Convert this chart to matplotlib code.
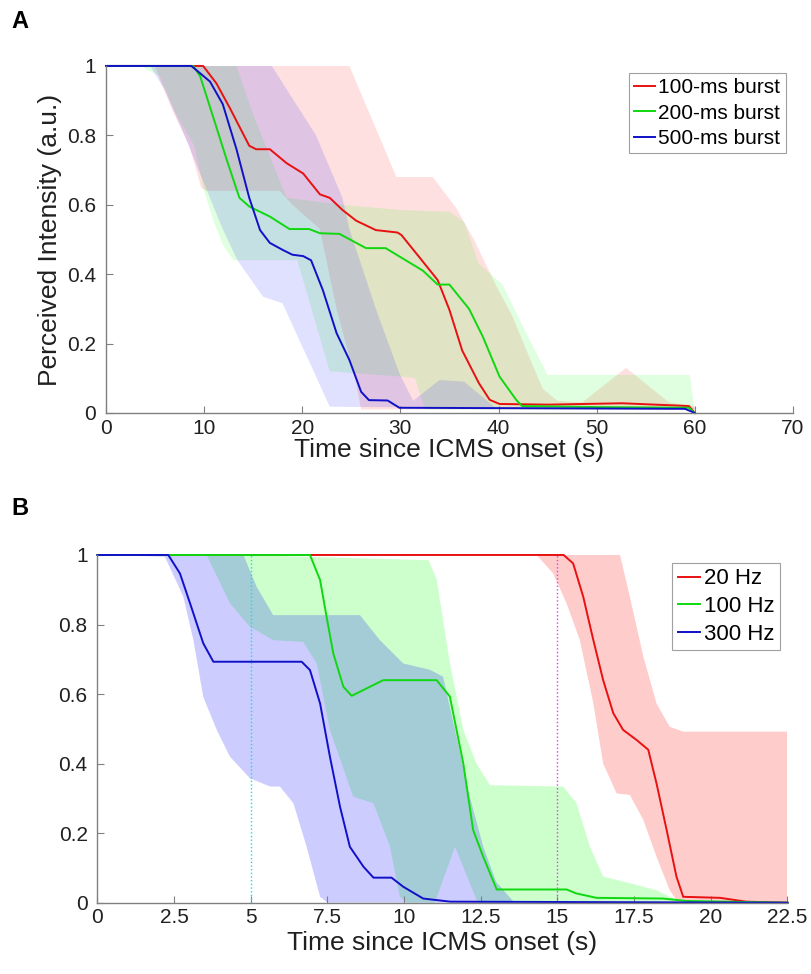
import matplotlib
matplotlib.use("Agg")
import matplotlib.pyplot as plt

plt.rcParams["font.family"] = ["Liberation Sans", "DejaVu Sans"]

# ---- Panel A: burst duration (time in s, intensity in a.u.) ----
burst_labels = ["100-ms burst", "200-ms burst", "500-ms burst"]

b100_t = [0, 9.9, 11.25, 12.6, 14.6, 15.3, 16.7, 18.4, 20.1, 21.8, 22.8, 24.1, 25.5,
          27.5, 29.7, 30.1, 31.9, 33.8, 35.0, 36.3, 38.0, 39.1, 40.1, 45.0, 52.6, 59.4, 60.0]
b100_y = [1, 1, 0.95, 0.88, 0.77, 0.76, 0.76, 0.72, 0.69, 0.63, 0.62, 0.585, 0.554,
          0.527, 0.52, 0.513, 0.45, 0.383, 0.297, 0.18, 0.086, 0.038, 0.026, 0.024, 0.028, 0.02, 0.0]
b200_t = [0, 8.9, 9.6, 10.9, 12.3, 13.6, 14.6, 16.7, 18.7, 20.7, 21.8, 23.8, 26.5, 28.5,
          32.3, 33.8, 35.0, 37.0, 38.4, 40.1, 41.8, 42.4, 50.0, 59.4, 60.0]
b200_y = [1, 1, 0.97, 0.855, 0.73, 0.62, 0.595, 0.566, 0.53, 0.53, 0.518, 0.516, 0.475, 0.475,
          0.41, 0.37, 0.37, 0.30, 0.22, 0.105, 0.038, 0.02, 0.017, 0.015, 0.0]
b500_t = [0, 8.7, 10.6, 11.9, 13.3, 14.6, 15.7, 16.7, 18.0, 19.0, 20.1, 20.9, 22.1, 23.5,
          24.8, 26.0, 26.8, 28.7, 29.9, 59.0, 60.0]
b500_y = [1, 1, 0.955, 0.89, 0.76, 0.62, 0.527, 0.49, 0.47, 0.456, 0.452, 0.44, 0.354, 0.23,
          0.153, 0.061, 0.037, 0.036, 0.015, 0.012, 0.0]

# spread bands: upper and lower edges
b100_hi_t = [0, 24.8, 29.6, 33.3, 35.7, 37.5, 39.7, 41.4, 43.0, 44.5, 46.0, 48.5, 53.0, 57.4, 60.0]
b100_hi = [1, 1, 0.68, 0.68, 0.59, 0.50, 0.37, 0.28, 0.17, 0.07, 0.035, 0.03, 0.13, 0.03, 0.02]
b100_lo_t = [0, 5.0, 5.5, 6.8, 8.5, 9.7, 10.2, 17.7, 19.0, 21.8, 23.5, 25.4, 26.0, 60.0]
b100_lo = [1, 1, 0.96, 0.87, 0.77, 0.65, 0.64, 0.64, 0.60, 0.53, 0.30, 0.10, 0.01, 0.01]

b200_hi_t = [0, 13.3, 15.0, 18.4, 24.0, 30.0, 35.0, 36.5, 38.0, 40.4, 43.0, 45.0, 59.5, 60.0]
b200_hi = [1, 1, 0.86, 0.62, 0.60, 0.585, 0.58, 0.55, 0.43, 0.37, 0.22, 0.11, 0.11, 0.0]
b200_lo_t = [0, 3.5, 5.5, 7.0, 9.0, 10.0, 11.0, 12.0, 13.0, 19.5, 22.8, 30.0, 31.5, 32.5, 60.0]
b200_lo = [1, 1, 0.97, 0.87, 0.77, 0.64, 0.55, 0.48, 0.44, 0.44, 0.12, 0.105, 0.10, 0.01, 0.01]

b500_hi_t = [0, 16.9, 21.4, 24.1, 24.8, 27.5, 29.9, 31.3, 34.0, 36.5, 39.7, 60.0]
b500_hi = [1, 1, 0.80, 0.62, 0.53, 0.30, 0.114, 0.035, 0.095, 0.09, 0.015, 0.015]
b500_lo_t = [0, 4.5, 6.0, 8.0, 10.3, 11.9, 13.4, 16.0, 18.0, 19.7, 20.8, 22.8, 60.0]
b500_lo = [1, 1, 0.93, 0.80, 0.64, 0.53, 0.44, 0.335, 0.316, 0.21, 0.143, 0.018, 0.01]

# ---- Panel B: stimulation frequency ----
freq_labels = ["20 Hz", "100 Hz", "300 Hz"]

f20_t = [0, 15.2, 15.51, 15.84, 16.17, 16.49, 16.82, 17.14, 17.58, 17.96, 18.23, 18.56,
         18.88, 19.1, 20.3, 21.15, 22.5]
f20_y = [1, 1, 0.976, 0.88, 0.755, 0.64, 0.545, 0.497, 0.468, 0.44, 0.343, 0.209,
         0.075, 0.017, 0.014, 0.003, 0.0]
f100_t = [0, 6.93, 7.26, 7.47, 7.69, 8.02, 8.29, 8.77, 9.32, 11.06, 11.49, 11.93, 12.25,
          12.58, 13.02, 15.3, 15.6, 16.27, 18.44, 19.2, 22.5]
f100_y = [1, 1, 0.928, 0.823, 0.717, 0.621, 0.595, 0.616, 0.64, 0.64, 0.593, 0.40, 0.209,
          0.132, 0.038, 0.038, 0.027, 0.014, 0.012, 0.005, 0.0]
f300_t = [0, 2.31, 2.69, 3.02, 3.45, 3.78, 6.66, 6.93, 7.26, 7.58, 7.91, 8.23, 8.67, 9.0,
          9.59, 9.97, 10.62, 11.5, 22.5]
f300_y = [1, 1, 0.947, 0.861, 0.746, 0.693, 0.693, 0.669, 0.573, 0.42, 0.276, 0.161, 0.104,
          0.072, 0.072, 0.046, 0.012, 0.003, 0.0]

f20_hi_t = [0, 17.04, 17.36, 17.8, 18.23, 18.66, 19.1, 22.5]
f20_hi = [1, 1, 0.88, 0.708, 0.573, 0.506, 0.492, 0.492]
f20_lo_t = [0, 14.32, 14.86, 15.3, 15.73, 16.17, 16.49, 16.93, 17.36, 17.8, 18.23, 18.66, 18.88, 22.5]
f20_lo = [1, 1, 0.947, 0.86, 0.755, 0.573, 0.40, 0.314, 0.31, 0.238, 0.132, 0.036, 0.008, 0.0]

f100_hi_t = [0, 4.7, 10.8, 11.06, 11.49, 11.93, 12.36, 12.8, 15.19, 15.62, 16.06, 16.49,
             17.36, 18.23, 18.66, 19.2]
f100_hi = [1, 1, 0.985, 0.93, 0.69, 0.497, 0.40, 0.338, 0.334, 0.286, 0.161, 0.075,
           0.056, 0.036, 0.017, 0.0]
f100_lo_t = [0, 3.56, 4.32, 4.97, 5.73, 6.71, 7.15, 7.58, 8.34, 9.0, 9.54, 9.86, 10.1,
             11.0, 11.66, 12.4, 19.2]
f100_lo = [1, 1, 0.861, 0.794, 0.755, 0.75, 0.688, 0.497, 0.305, 0.286, 0.161, 0.017, 0.0,
           0.0, 0.161, 0.0, 0.0]

f300_hi_t = [0, 4.76, 5.19, 5.73, 8.56, 9.21, 9.97, 10.84, 11.27, 11.71, 12.14, 12.58, 13.0, 13.6]
f300_hi = [1, 1, 0.909, 0.827, 0.827, 0.755, 0.688, 0.67, 0.65, 0.477, 0.305, 0.161, 0.06, 0.0]
f300_lo_t = [0, 2.2, 2.8, 3.13, 3.45, 3.89, 4.32, 4.97, 5.63, 5.95, 6.39, 6.82, 7.26, 7.5, 13.6]
f300_lo = [1, 0.995, 0.88, 0.755, 0.592, 0.497, 0.42, 0.358, 0.334, 0.334, 0.286, 0.161,
           0.017, 0.0, 0.0]

marker_times = [5.0, 15.0]
marker_colors = ["#00e5ee", "#e040e0"]

LINE_COLORS = ["#e81010", "#10d810", "#1010c8"]
BAND_COLORS = ["#ff0000", "#00ff00", "#0000ff"]
AX_GRAY = "#808080"
TXT = "#202020"


def draw_band(ax, hi_t, hi, lo_t, lo, color, alpha):
    xs = list(hi_t) + list(lo_t)[::-1]
    ys = list(hi) + list(lo)[::-1]
    ax.fill(xs, ys, color=color, alpha=alpha, linewidth=0)


def style_axes(ax):
    for side in ("top", "right"):
        ax.spines[side].set_visible(False)
    for side in ("left", "bottom"):
        ax.spines[side].set_color(AX_GRAY)
        ax.spines[side].set_linewidth(1.0)
    ax.tick_params(direction="in", length=5, width=0.8, color=AX_GRAY,
                   labelsize=15, labelcolor=TXT)
    ax.tick_params(axis="y", pad=7)
    ax.tick_params(axis="x", pad=4)
    ax.set_ylim(0, 1)
    ax.set_yticks([0, 0.2, 0.4, 0.6, 0.8, 1])
    ax.set_yticklabels(["0", "0.2", "0.4", "0.6", "0.8", "1"])


def add_legend(ax, size):
    leg = ax.legend(loc="upper right", fontsize=size, handlelength=1.0, handletextpad=0.15,
                    borderpad=0.25, labelspacing=0.3, borderaxespad=0.35, fancybox=False,
                    framealpha=1)
    leg.get_frame().set_edgecolor("#a0a0a0")
    leg.get_frame().set_linewidth(0.8)
    return leg


fig = plt.figure(figsize=(8.12, 9.74), dpi=100)

# Panel A
axA = fig.add_axes([0.1305, 0.576, 0.846, 0.3563])
bandsA = [(b100_hi_t, b100_hi, b100_lo_t, b100_lo),
          (b200_hi_t, b200_hi, b200_lo_t, b200_lo),
          (b500_hi_t, b500_hi, b500_lo_t, b500_lo)]
for (ht, h, lt, l), c in zip(bandsA, BAND_COLORS):
    draw_band(axA, ht, h, lt, l, c, 0.12)
linesA = [(b100_t, b100_y), (b200_t, b200_y), (b500_t, b500_y)]
for (t, y), c, lab in zip(linesA, LINE_COLORS, burst_labels):
    axA.plot(t, y, color=c, lw=1.4, label=lab, clip_on=False)
style_axes(axA)
axA.set_xlim(0, 70)
axA.set_xticks(range(0, 71, 10))
axA.set_xlabel("Time since ICMS onset (s)", fontsize=19, color=TXT, labelpad=0)
axA.set_ylabel("Perceived Intensity (a.u.)", fontsize=19, color=TXT, labelpad=4)
add_legend(axA, 15)

# Panel B
axB = fig.add_axes([0.12, 0.0732, 0.8498, 0.357])
bandsB = [(f20_hi_t, f20_hi, f20_lo_t, f20_lo),
          (f100_hi_t, f100_hi, f100_lo_t, f100_lo),
          (f300_hi_t, f300_hi, f300_lo_t, f300_lo)]
for (ht, h, lt, l), c in zip(bandsB, BAND_COLORS):
    draw_band(axB, ht, h, lt, l, c, 0.2)
for t, c in zip(marker_times, marker_colors):
    axB.axvline(t, ymin=0, ymax=1, color=c, lw=1.0, ls=":")
linesB = [(f20_t, f20_y), (f100_t, f100_y), (f300_t, f300_y)]
for (t, y), c, lab in zip(linesB, LINE_COLORS, freq_labels):
    axB.plot(t, y, color=c, lw=1.4, label=lab, clip_on=False)
style_axes(axB)
axB.set_xlim(0, 22.5)
axB.set_xticks([0, 2.5, 5, 7.5, 10, 12.5, 15, 17.5, 20, 22.5])
axB.set_xticklabels(["0", "2.5", "5", "7.5", "10", "12.5", "15", "17.5", "20", "22.5"])
axB.set_xlabel("Time since ICMS onset (s)", fontsize=19, color=TXT, labelpad=3)
add_legend(axB, 16)

fig.text(0.014, 0.978, "A", fontsize=17, fontweight="bold", color="black", va="center")
fig.text(0.014, 0.478, "B", fontsize=17, fontweight="bold", color="black", va="center")

fig.savefig("out.png", dpi=100)
